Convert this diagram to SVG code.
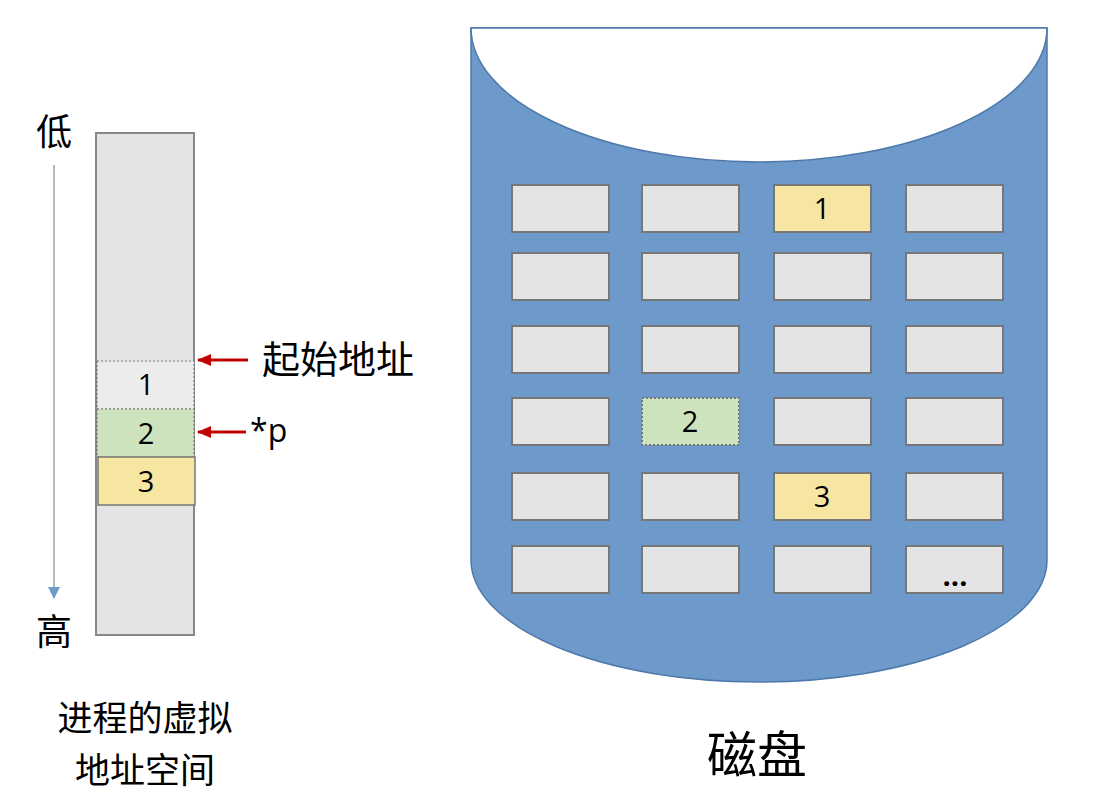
<svg xmlns="http://www.w3.org/2000/svg" width="1096" height="810" viewBox="0 0 1096 810">
<style>
.cell{fill:#e4e4e4;stroke:#777;stroke-width:2}
.y{fill:#f7e5a2}
.g{fill:#cce3bd;stroke-dasharray:2 2}
.num{font-family:"Open Sans","Liberation Sans",sans-serif;font-size:29px;fill:#000;text-anchor:middle}
.cjk{font-family:"Noto Sans CJK SC",sans-serif;fill:#000}
</style>
<defs>
<marker id="red" markerWidth="14" markerHeight="12" refX="13" refY="6" orient="auto" markerUnits="userSpaceOnUse">
<path d="M0,0 L14,6 L0,12 Z" fill="#c00000"/>
</marker>
<marker id="blue" markerWidth="12" markerHeight="12" refX="11" refY="6" orient="auto" markerUnits="userSpaceOnUse">
<path d="M0,0 L12,6 L0,12 Z" fill="#6f9bcb"/>
</marker>
</defs>
<rect width="1096" height="810" fill="#fff"/>

<g id="disk">
<path d="M471,28 L471,560 A288,122 0 0 0 1047,560 L1047,28 Z" fill="#6e9acb" stroke="#4d78aa" stroke-width="1.5"/>
<path d="M471,28 A288,134 0 0 0 1047,28 Z" fill="#fff" stroke="#4d78aa" stroke-width="1.5"/>
</g>

<g id="grid">
<rect class="cell" x="512" y="185" width="97" height="47"/>
<rect class="cell" x="642" y="185" width="97" height="47"/>
<rect class="cell y" x="774" y="185" width="97" height="47"/>
<rect class="cell" x="906" y="185" width="97" height="47"/>
<rect class="cell" x="512" y="253" width="97" height="47"/>
<rect class="cell" x="642" y="253" width="97" height="47"/>
<rect class="cell" x="774" y="253" width="97" height="47"/>
<rect class="cell" x="906" y="253" width="97" height="47"/>
<rect class="cell" x="512" y="326" width="97" height="47"/>
<rect class="cell" x="642" y="326" width="97" height="47"/>
<rect class="cell" x="774" y="326" width="97" height="47"/>
<rect class="cell" x="906" y="326" width="97" height="47"/>
<rect class="cell" x="512" y="398" width="97" height="47"/>
<rect class="cell g" x="642" y="398" width="97" height="47"/>
<rect class="cell" x="774" y="398" width="97" height="47"/>
<rect class="cell" x="906" y="398" width="97" height="47"/>
<rect class="cell" x="512" y="473" width="97" height="47"/>
<rect class="cell" x="642" y="473" width="97" height="47"/>
<rect class="cell y" x="774" y="473" width="97" height="47"/>
<rect class="cell" x="906" y="473" width="97" height="47"/>
<rect class="cell" x="512" y="546" width="97" height="47"/>
<rect class="cell" x="642" y="546" width="97" height="47"/>
<rect class="cell" x="774" y="546" width="97" height="47"/>
<rect class="cell" x="906" y="546" width="97" height="47"/>
<text class="num" x="822" y="219">1</text>
<text class="num" x="690" y="432">2</text>
<text class="num" x="822" y="507">3</text>
<text class="num" x="955" y="586" font-weight="bold">...</text>
</g>

<g id="vspace">
<rect x="96" y="133" width="98" height="502" fill="#e4e4e4" stroke="#888" stroke-width="2"/>
<rect x="97" y="361" width="97" height="48" fill="#ececec" stroke="#777" stroke-width="1.2" stroke-dasharray="2 2"/>
<rect x="97" y="409" width="97" height="48" fill="#cce3bd" stroke="#777" stroke-width="1.2" stroke-dasharray="2 2"/>
<rect x="98" y="457" width="97" height="48" fill="#f7e5a2" stroke="#777" stroke-width="1.5"/>
<text class="num" x="146" y="395">1</text>
<text class="num" x="146" y="444">2</text>
<text class="num" x="146" y="492">3</text>
</g>

<g id="connectors">
<line x1="54" y1="165" x2="54" y2="598" stroke="#8a8a8a" stroke-width="1.2" marker-end="url(#blue)"/>
<line x1="248" y1="360" x2="198" y2="360" stroke="#c00000" stroke-width="3" marker-end="url(#red)"/>
<line x1="246" y1="432" x2="198" y2="432" stroke="#c00000" stroke-width="3" marker-end="url(#red)"/>
</g>

<g id="labels">
<text class="cjk" x="54" y="145" font-size="36" text-anchor="middle">低</text>
<text class="cjk" x="54" y="645" font-size="36" text-anchor="middle">高</text>
<text class="cjk" x="262" y="373" font-size="38">起始地址</text>
<text x="250" y="442" font-family="Open Sans, Liberation Sans, sans-serif" font-size="32" fill="#000">*p</text>
<text class="cjk" x="145" y="731" font-size="35" text-anchor="middle">进程的虚拟</text>
<text class="cjk" x="145" y="783" font-size="35" text-anchor="middle">地址空间</text>
<text class="cjk" x="757" y="773" font-size="50" text-anchor="middle">磁盘</text>
</g>
</svg>
